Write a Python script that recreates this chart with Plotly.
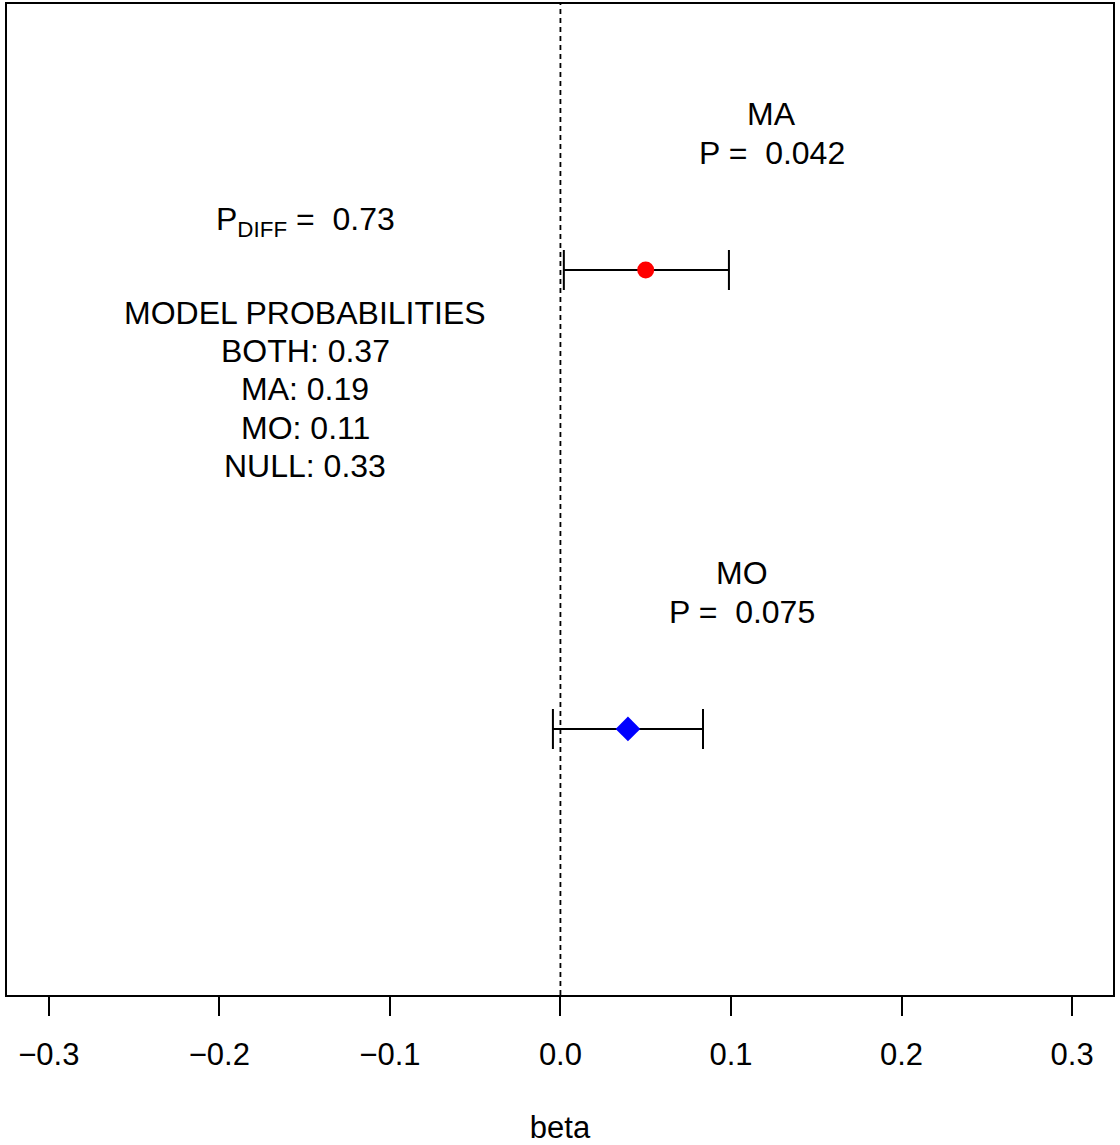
import plotly.graph_objects as go

# Data
groups = ["MA", "MO"]
beta = [0.050, 0.0396]
ci_low = [0.002, -0.0044]
ci_high = [0.0988, 0.0836]
ypos = [2, 1]
pvals = ["0.042", "0.075"]
colors = ["red", "blue"]
symbols = ["circle", "diamond"]
p_diff = "0.73"
model_names = ["BOTH", "MA", "MO", "NULL"]
model_probs = ["0.37", "0.19", "0.11", "0.33"]
xticks = [-0.3, -0.2, -0.1, 0.0, 0.1, 0.2, 0.3]
xtick_labels = ["\u22120.3", "\u22120.2", "\u22120.1", "0.0", "0.1", "0.2", "0.3"]

FONT = "Liberation Sans, Arial, sans-serif"
FS = 31
AFS = 32
XR = [-0.3245, 0.3240]
YR = [0.42, 2.58]

fig = go.Figure()

# dashed reference line at zero
fig.add_trace(go.Scatter(x=[0, 0], y=YR, mode="lines",
                         line=dict(color="black", width=1.8, dash="5px,4px"),
                         showlegend=False, hoverinfo="skip"))

for i, g in enumerate(groups):
    fig.add_trace(go.Scatter(
        x=[beta[i]], y=[ypos[i]], mode="markers",
        marker=dict(color=colors[i], symbol=symbols[i], size=17 if i == 0 else 19,
                    line=dict(width=0)),
        error_x=dict(type="data", symmetric=False,
                     array=[ci_high[i] - beta[i]], arrayminus=[beta[i] - ci_low[i]],
                     color="black", thickness=2, width=20),
        showlegend=False))

annotations = []
label_x = [0.124, 0.1064]
for i, g in enumerate(groups):
    annotations.append(dict(x=label_x[i], y=ypos[i] + 0.34, text=g, showarrow=False,
                            xanchor="center", yanchor="middle", font=dict(size=AFS)))
    annotations.append(dict(x=label_x[i], y=ypos[i] + 0.255, text="P =  " + pvals[i],
                            showarrow=False, xanchor="center", yanchor="middle",
                            font=dict(size=AFS)))

annotations.append(dict(x=-0.1495, y=2.105, text="P<sub>DIFF</sub> =  " + p_diff,
                        showarrow=False, xanchor="center", yanchor="middle",
                        font=dict(size=AFS)))
prob_lines = ["MODEL PROBABILITIES"] + [f"{n}: {p}" for n, p in zip(model_names, model_probs)]
prob_y = [1.906, 1.823, 1.741, 1.656, 1.573]
for t, yy in zip(prob_lines, prob_y):
    annotations.append(dict(x=-0.1495, y=yy, text=t, showarrow=False,
                            xanchor="center", yanchor="middle", font=dict(size=AFS)))

fig.update_layout(
    width=1120, height=1145,
    margin=dict(l=7, r=7, t=4, b=150, autoexpand=False),
    plot_bgcolor="white", paper_bgcolor="white",
    font=dict(family=FONT, size=FS, color="black"),
    annotations=annotations,
    xaxis=dict(range=XR, tickvals=xticks, ticktext=xtick_labels,
               ticks="outside", ticklen=19, tickwidth=1.5, tickcolor="black",
               showline=True, linecolor="black", linewidth=1.5, mirror=True,
               showgrid=False, zeroline=False, automargin=False,
               ticklabelstandoff=12,
               title=dict(text="beta", standoff=51, font=dict(size=FS)),
               tickfont=dict(size=FS)),
    yaxis=dict(range=YR, showticklabels=False, ticks="", showgrid=False, zeroline=False,
               automargin=False,
               showline=True, linecolor="black", linewidth=1.5, mirror=True),
)

fig.write_html("out.html", config={"displayModeBar": False},
               post_script="document.body.style.margin='0px';document.body.style.padding='0px';")
